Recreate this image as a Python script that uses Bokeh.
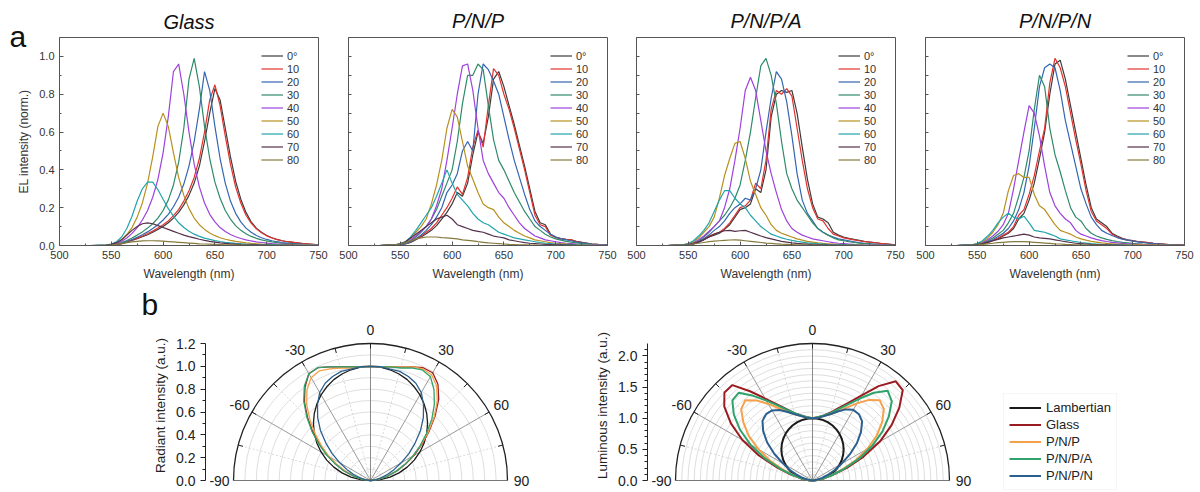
import math
from bokeh.plotting import figure
from bokeh.layouts import row, column
from bokeh.models import Legend, LegendItem, Title, FixedTicker, Range1d, PrintfTickFormatter
from bokeh.embed import file_html
from bokeh.resources import INLINE

FONT = "Liberation Sans"

# ---------------- spectra (panel a) ----------------
WL = [500, 530, 545, 550, 555, 560, 565, 570, 575, 580, 585, 590, 595, 600, 605, 610, 615, 620, 625, 630,
      635, 640, 645, 650, 655, 660, 665, 670, 675, 680, 685, 690, 695, 700, 705, 710, 715, 720, 735, 750]
ANGLE_LABELS = ["0°", "10", "20", "30", "40", "50", "60", "70", "80"]
ANGLE_COLORS = ["#3c3c3c", "#e0322e", "#3466b0", "#2f8a6a", "#9d42dc", "#b8901e", "#22a4ac", "#55304a", "#857a3c"]
PANEL_TITLES = ["Glass", "P/N/P", "P/N/P/A", "P/N/P/N"]

GLASS = [
    [0,0,0,.002,.005,.01,.018,.027,.036,.046, .057,.07,.085,.10,.12,.145,.175,.215,.265,.33, .42,.55,.70,.83,.77,.62,.47,.34,.245,.175, .125,.092,.07,.053,.041,.032,.025,.02,.01,.004],
    [0,0,0,.002,.005,.01,.019,.029,.039,.05, .062,.076,.092,.11,.13,.158,.19,.235,.29,.36, .46,.60,.77,.85,.74,.58,.43,.31,.225,.16, .118,.088,.067,.051,.04,.031,.025,.02,.01,.004],
    [0,0,0,.002,.006,.012,.021,.032,.044,.057, .072,.09,.11,.135,.165,.205,.255,.325,.42,.55, .72,.92,.82,.63,.46,.33,.235,.17,.125,.092, .07,.053,.041,.032,.025,.02,.016,.013,.006,.003],
    [0,0,0,.003,.008,.015,.026,.04,.055,.072, .092,.115,.145,.185,.24,.32,.44,.62,.88,.99, .84,.63,.46,.335,.25,.185,.14,.105,.08,.062, .048,.038,.03,.024,.019,.015,.012,.01,.005,.002],
    [0,0,.001,.004,.011,.022,.04,.064,.095,.135, .185,.255,.35,.49,.68,.92,.96,.80,.60,.43, .31,.225,.165,.125,.095,.074,.058,.046,.037,.03, .024,.019,.016,.013,.01,.008,.007,.006,.003,.001],
    [0,0,.002,.006,.015,.032,.058,.095,.15,.225, .33,.47,.63,.70,.63,.49,.36,.265,.195,.145, .11,.085,.066,.052,.041,.033,.027,.022,.018,.014, .011,.009,.007,.006,.005,.004,.003,.003,.002,.001],
    [0,0,.003,.008,.02,.045,.09,.155,.235,.30, .335,.335,.295,.245,.195,.155,.12,.095,.075,.06, .048,.039,.032,.026,.021,.017,.014,.011,.009,.007, .006,.005,.004,.003,.003,.002,.002,.001,.001,0],
    [0,0,.002,.006,.015,.03,.055,.08,.10,.115, .12,.115,.105,.095,.085,.075,.065,.055,.047,.04, .033,.027,.022,.018,.014,.011,.009,.007,.005,.004, .003,.003,.002,.002,.001,.001,.001,.001,0,0],
    [0,0,.001,.003,.006,.01,.015,.019,.022,.024, .025,.025,.024,.023,.021,.019,.017,.015,.013,.011, .009,.008,.007,.006,.005,.004,.003,.003,.002,.002, .001,.001,.001,.001,0,0,0,0,0,0],
]
PNP = [
    [0,0,.002,.004,.008,.016,.03,.045,.062,.08, .105,.14,.175,.22,.28,.26,.33,.48,.6,.54, .68,.88,.92,.84,.74,.64,.53,.42,.3,.18, .12,.11,.06,.045,.037,.033,.03,.022,.008,.002],
    [0,0,.002,.005,.01,.02,.035,.05,.07,.09, .12,.16,.2,.25,.31,.27,.36,.52,.61,.52, .74,.935,.9,.8,.72,.62,.51,.4,.28,.16, .11,.1,.055,.042,.035,.032,.03,.02,.008,.002],
    [0,0,.002,.005,.01,.02,.035,.055,.08,.11, .15,.2,.28,.32,.38,.5,.55,.5,.8,.96, .93,.87,.8,.68,.56,.45,.36,.27,.19,.13, .1,.08,.06,.045,.035,.03,.025,.018,.007,.002],
    [0,0,.003,.006,.012,.025,.045,.07,.1,.14, .19,.26,.33,.4,.55,.75,.9,.9,.96,.93, .74,.56,.45,.4,.34,.28,.23,.18,.14,.1, .08,.06,.045,.035,.028,.022,.018,.014,.005,.001],
    [0,0,.003,.007,.015,.03,.05,.075,.1,.14, .21,.3,.45,.62,.8,.95,.96,.82,.62,.45, .38,.33,.28,.25,.2,.16,.12,.09,.07,.05, .04,.03,.025,.02,.015,.012,.01,.008,.003,.001],
    [0,0,.004,.01,.02,.04,.07,.1,.14,.22, .32,.45,.62,.72,.68,.55,.42,.35,.28,.22, .2,.19,.15,.12,.1,.08,.065,.05,.04,.03, .025,.02,.015,.012,.01,.008,.006,.005,.002,0],
    [0,0,.004,.01,.02,.045,.08,.12,.16,.2, .26,.33,.4,.33,.27,.24,.21,.17,.14,.12, .11,.09,.07,.06,.05,.04,.035,.03,.025,.02, .015,.012,.01,.008,.006,.005,.004,.003,.001,0],
    [0,0,.003,.008,.02,.04,.06,.08,.1,.12, .14,.15,.16,.14,.11,.1,.09,.08,.075,.07, .06,.05,.045,.04,.03,.025,.02,.015,.012,.01, .008,.006,.005,.004,.003,.002,.002,.001,0,0],
    [0,0,.003,.008,.015,.025,.035,.04,.045,.045, .045,.042,.04,.038,.035,.03,.027,.024,.02,.017, .014,.012,.01,.008,.006,.005,.004,.003,.002,.002, .001,.001,0,0,0,0,0,0,0,0],
]
PNPA = [
    [0,0,.002,.004,.008,.016,.03,.045,.055,.065, .085,.11,.15,.19,.2,.22,.3,.28,.4,.68, .8,.82,.81,.82,.7,.52,.35,.22,.15,.14, .12,.07,.055,.045,.038,.032,.027,.022,.012,.003],
    [0,0,.002,.005,.01,.02,.035,.05,.06,.07, .09,.12,.16,.2,.21,.24,.33,.3,.45,.72, .82,.8,.83,.79,.62,.45,.3,.2,.14,.13, .09,.06,.05,.04,.035,.03,.025,.02,.012,.003],
    [0,0,.002,.005,.01,.02,.035,.055,.08,.1, .13,.17,.2,.22,.25,.24,.3,.4,.6,.78, .92,.88,.76,.58,.38,.24,.17,.13,.09,.07, .055,.045,.035,.03,.025,.02,.015,.012,.005,.001],
    [0,0,.003,.006,.012,.025,.045,.07,.1,.13, .16,.2,.25,.32,.45,.6,.78,.95,.99,.9, .75,.55,.38,.3,.24,.2,.16,.12,.09,.07, .055,.04,.03,.025,.02,.016,.012,.01,.004,.001],
    [0,0,.003,.007,.015,.03,.05,.075,.1,.13, .2,.3,.45,.62,.82,.89,.82,.66,.5,.38, .28,.19,.13,.09,.07,.055,.045,.035,.03,.025, .02,.015,.012,.01,.008,.006,.005,.004,.002,0],
    [0,0,.004,.01,.02,.04,.07,.1,.15,.25, .37,.46,.54,.55,.46,.34,.27,.2,.16,.11, .08,.065,.055,.045,.035,.028,.022,.018,.014,.011, .009,.007,.006,.005,.004,.003,.003,.002,.001,0],
    [0,0,.004,.01,.025,.05,.08,.12,.18,.24, .29,.29,.25,.22,.2,.16,.13,.1,.08,.06, .05,.04,.033,.027,.022,.018,.014,.011,.009,.007, .005,.004,.003,.003,.002,.002,.001,.001,0,0],
    [0,0,.002,.005,.01,.02,.03,.045,.06,.07, .078,.08,.075,.078,.08,.07,.06,.05,.042,.035, .028,.022,.018,.014,.011,.009,.007,.005,.004,.003, .002,.002,.001,.001,.001,.001,0,0,0,0],
    [0,0,.002,.004,.008,.012,.016,.02,.023,.025, .027,.029,.03,.028,.025,.022,.019,.016,.013,.011, .009,.007,.006,.005,.004,.003,.002,.002,.001,.001, 0,0,0,0,0,0,0,0,0,0],
]
PNPN = [
    [0,0,.002,.004,.008,.015,.025,.036,.05,.065, .09,.14,.17,.24,.33,.46,.6,.8,.96,.98, .88,.74,.6,.46,.32,.2,.14,.12,.1,.065, .05,.038,.03,.026,.021,.018,.015,.012,.005,.002],
    [0,0,.002,.005,.01,.018,.028,.04,.055,.07, .1,.16,.19,.27,.37,.5,.62,.86,.99,.94, .84,.7,.56,.43,.29,.18,.13,.11,.09,.06, .045,.035,.028,.025,.02,.018,.015,.012,.005,.002],
    [0,0,.003,.006,.012,.02,.032,.048,.065,.09, .13,.19,.28,.42,.62,.84,.94,.96,.94,.82, .66,.54,.42,.3,.22,.15,.11,.08,.065,.053, .042,.034,.028,.023,.019,.016,.013,.01,.004,.001],
    [0,0,.003,.007,.014,.025,.04,.06,.08,.12, .17,.26,.36,.5,.72,.9,.84,.62,.48,.39, .29,.2,.15,.13,.09,.065,.05,.04,.032,.026, .021,.017,.014,.011,.009,.007,.006,.005,.002,0],
    [0,0,.003,.008,.016,.03,.05,.075,.11,.17, .3,.45,.6,.74,.7,.58,.42,.28,.21,.17, .14,.12,.08,.06,.05,.04,.032,.026,.021,.017, .014,.011,.009,.007,.006,.005,.004,.003,.001,0],
    [0,0,.004,.01,.02,.04,.07,.11,.17,.29, .37,.38,.36,.36,.27,.21,.19,.15,.11,.08, .07,.06,.045,.035,.028,.022,.018,.014,.011,.009, .007,.006,.005,.004,.003,.003,.002,.002,.001,0],
    [0,0,.004,.01,.025,.05,.08,.12,.15,.17, .15,.14,.155,.12,.08,.075,.07,.06,.05,.035, .03,.025,.02,.016,.013,.01,.008,.006,.005,.004, .003,.002,.002,.001,0,0,0,0,0,0],
    [0,0,.002,.005,.01,.018,.025,.032,.04,.045, .05,.055,.06,.055,.045,.04,.038,.035,.03,.025, .02,.016,.012,.01,.008,.006,.005,.004,.003,.002, .002,.001,0,0,0,0,0,0,0,0],
    [0,0,.001,.003,.006,.009,.012,.015,.017,.019, .02,.02,.02,.019,.017,.015,.013,.011,.009,.008, .006,.005,.004,.003,.003,.002,.002,.001,.001,0, 0,0,0,0,0,0,0,0,0,0],
]

X_TICKS = [500, 550, 600, 650, 700, 750]
X_MINOR = [525, 575, 625, 675, 725]
Y_TICKS = [0.0, 0.2, 0.4, 0.6, 0.8, 1.0]
Y_MINOR = [0.1, 0.3, 0.5, 0.7, 0.9]

# ---------------- angular distributions (panel b) ----------------
POLAR_ANG = [-90, -85, -80, -75, -70, -65, -60, -55, -50, -45, -40, -35, -30, -25, -20, -15, -10, -5, 0,
             5, 10, 15, 20, 25, 30, 35, 40, 45, 50, 55, 60, 65, 70, 75, 80, 85, 90]
SAMPLES = ["Lambertian", "Glass", "P/N/P", "P/N/P/A", "P/N/P/N"]
SAMPLE_COLORS = ["#1a1a1a", "#9b1c20", "#f5a04a", "#2fa36b", "#2b5f8e"]

LAMBERT = [0, .087, .174, .259, .342, .423, .5, .574, .643, .707, .766, .819, .866, .906, .94, .966, .985, .996, 1.0,
           .996, .985, .966, .94, .906, .866, .819, .766, .707, .643, .574, .5, .423, .342, .259, .174, .087, 0]
RAD_GLASS = [0,.03,.08,.15,.24,.33,.43,.54,.66,.78,.90,1.0,1.08,1.09,1.06,1.03,1.01,1.0, 1.0,
             1.0,1.01,1.03,1.06,1.09,1.09,1.03,.93,.80,.67,.55,.44,.34,.25,.16,.09,.035,0]
RAD_PNP = [0,.03,.08,.15,.23,.32,.42,.52,.63,.75,.87,.97,1.04,1.06,1.04,1.02,1.0,1.0, 1.0,
           1.0,1.01,1.03,1.06,1.08,1.07,1.01,.91,.79,.66,.54,.43,.33,.24,.15,.08,.03,0]
RAD_PNPA = [0,.035,.09,.16,.25,.34,.44,.55,.67,.79,.91,1.01,1.08,1.09,1.06,1.03,1.01,1.0, 1.0,
            1.0,1.01,1.02,1.05,1.07,1.05,.97,.87,.76,.64,.53,.43,.33,.24,.16,.09,.035,0]
RAD_PNPN = [0,.02,.05,.10,.16,.23,.31,.41,.51,.62,.72,.81,.89,.94,.97,.99,.99,1.0, 1.0,
            1.0,.99,.99,.97,.94,.89,.81,.72,.62,.51,.41,.31,.23,.16,.10,.05,.02,0]

LUM_GLASS = [0,.06,.17,.35,.6,.95,1.3,1.6,1.85,2.0,2.0,1.75,1.52,1.35,1.22,1.12,1.06,1.02, 1.0,
             1.02,1.06,1.13,1.24,1.38,1.58,1.85,2.08,2.05,1.82,1.55,1.25,.9,.58,.33,.16,.05,0]
LUM_PNP = [0,.05,.14,.3,.5,.75,1.0,1.25,1.45,1.62,1.68,1.57,1.42,1.28,1.18,1.10,1.05,1.02, 1.0,
           1.02,1.05,1.10,1.18,1.29,1.43,1.58,1.68,1.62,1.46,1.26,1.02,.76,.5,.3,.14,.05,0]
LUM_PNPA = [0,.05,.15,.32,.55,.85,1.15,1.42,1.65,1.82,1.84,1.66,1.48,1.33,1.21,1.12,1.06,1.02, 1.0,
            1.02,1.06,1.12,1.22,1.35,1.52,1.72,1.88,1.80,1.60,1.37,1.10,.82,.53,.31,.15,.05,0]
LUM_PNPN = [0,.03,.08,.17,.27,.40,.55,.75,.95,1.12,1.25,1.30,1.30,1.25,1.17,1.10,1.05,1.01, 1.0,
            1.01,1.05,1.10,1.18,1.26,1.31,1.30,1.24,1.10,.93,.73,.54,.39,.26,.16,.08,.03,0]

RAD_TICKS = [0.0, 0.2, 0.4, 0.6, 0.8, 1.0, 1.2]
LUM_TICKS = [0.0, 0.5, 1.0, 1.5, 2.0]
ANGLE_TICK_LABELS = [-90, -60, -30, 0, 30, 60, 90]


def letter_title(letter, offset, standoff, valign="bottom"):
    return Title(text=letter, align="left", offset=offset, standoff=standoff, vertical_align=valign,
                 text_font=FONT, text_font_size="30px", text_font_style="normal", text_color="#111111")


def spectrum_panel(title, curves, left_b, right_b, first):
    p = figure(frame_width=259, frame_height=208, min_border_left=left_b, min_border_right=right_b,
               min_border_top=37, min_border_bottom=43, x_range=Range1d(500, 750), y_range=Range1d(0, 1.1),
               output_backend="svg", toolbar_location=None)
    if first:
        p.add_layout(letter_title("a", -50, -30), "above")
    p.add_layout(Title(text=title, align="center", standoff=0 if first else 12, text_font=FONT,
                       text_font_style="italic", text_font_size="20px", text_color="#111111"), "above")
    p.xgrid.visible = False
    p.ygrid.visible = False
    p.outline_line_color = "#555555"
    rends = []
    for vals, col in zip(curves, ANGLE_COLORS):
        rends.append(p.line(WL, vals, line_color=col, line_width=1.2))
    items = [LegendItem(label=lab, renderers=[r]) for lab, r in zip(ANGLE_LABELS, rends)]
    leg = Legend(items=items, location=(202, 79), padding=0, spacing=0, margin=0,
                 glyph_width=22, glyph_height=13, label_height=13, label_standoff=4,
                 label_text_font=FONT, label_text_font_size="11px", label_text_color="#333333",
                 border_line_color=None, background_fill_alpha=0)
    p.add_layout(leg)
    for ax in (p.xaxis[0], p.yaxis[0]):
        ax.axis_line_color = "#555555"
        ax.major_tick_line_color = "#555555"
        ax.minor_tick_line_color = "#555555"
        ax.major_tick_in = 4
        ax.major_tick_out = 0
        ax.minor_tick_in = 2
        ax.minor_tick_out = 0
        ax.major_label_text_font = FONT
        ax.major_label_text_font_size = "11px"
        ax.major_label_text_color = "#333333"
        ax.axis_label_text_font = FONT
        ax.axis_label_text_font_style = "normal"
        ax.axis_label_text_font_size = "12px"
        ax.axis_label_text_color = "#333333"
    p.xaxis[0].ticker = FixedTicker(ticks=X_TICKS, minor_ticks=X_MINOR)
    p.xaxis[0].axis_label = "Wavelength (nm)"
    if first:
        p.yaxis[0].ticker = FixedTicker(ticks=Y_TICKS, minor_ticks=Y_MINOR)
        p.yaxis[0].formatter = PrintfTickFormatter(format="%.1f")
        p.yaxis[0].axis_label = "EL intensity (norm.)"
    else:
        # unlabeled axis: tick marks only
        p.yaxis[0].ticker = FixedTicker(ticks=[], minor_ticks=Y_TICKS[1:] + Y_MINOR)
        p.yaxis[0].minor_tick_in = 3
        p.yaxis[0].major_label_standoff = 0
    return p


def polar_panel(R, frame_w, left_b, center_px, curves, lw, ylabel, yticks, minor_step):
    s = 137.0 / R
    frame_h = 174
    p = figure(frame_width=frame_w, frame_height=frame_h, min_border_left=left_b, min_border_right=0,
               min_border_top=30, min_border_bottom=0,
               x_range=Range1d(-center_px / s, (frame_w - center_px) / s),
               y_range=Range1d(-12.0 / s, (frame_h - 12.0) / s),
               x_axis_location=None, output_backend="svg", toolbar_location=None)
    p.xgrid.visible = False
    p.ygrid.visible = False
    p.outline_line_color = None
    n = int(round(R / 0.1))
    rings = [round(0.1 * k, 2) for k in range(1, n)]
    p.arc(x=0, y=0, radius=rings, start_angle=0, end_angle=math.pi, line_color="#d6d6d6", line_width=0.8)
    dotted = [-75, -45, -15, 15, 45, 75]
    p.segment(x0=0, y0=0, x1=[R * math.sin(math.radians(a)) for a in dotted],
              y1=[R * math.cos(math.radians(a)) for a in dotted],
              line_color="#cfcfcf", line_width=0.8, line_dash="2 2")
    spokes = [-60, -30, 30, 60]
    p.segment(x0=0, y0=0, x1=[R * math.sin(math.radians(a)) for a in spokes],
              y1=[R * math.cos(math.radians(a)) for a in spokes], line_color="#9a9a9a", line_width=1)
    p.segment(x0=0, y0=0, x1=0, y1=R, line_color="#8a8a8a", line_width=1)
    p.segment(x0=-R, y0=0, x1=R, y1=0, line_color="#777777", line_width=1)
    p.arc(x=0, y=0, radius=R, start_angle=0, end_angle=math.pi, line_color="#222222", line_width=1.3)
    tick_angles = list(range(-75, 90, 15))
    ri = R - 5.0 / s
    p.segment(x0=[ri * math.sin(math.radians(a)) for a in tick_angles],
              y0=[ri * math.cos(math.radians(a)) for a in tick_angles],
              x1=[R * math.sin(math.radians(a)) for a in tick_angles],
              y1=[R * math.cos(math.radians(a)) for a in tick_angles], line_color="#222222", line_width=1)
    rl = R + 14.0 / s
    p.text(x=[rl * math.sin(math.radians(a)) for a in ANGLE_TICK_LABELS],
           y=[rl * math.cos(math.radians(a)) for a in ANGLE_TICK_LABELS],
           text=[str(a) for a in ANGLE_TICK_LABELS], text_align="center", text_baseline="middle",
           text_font_size="14px", text_color="#222222", text_font={"value": FONT})
    rends = []
    for vals, col in zip(curves, SAMPLE_COLORS):
        xs = [r * math.sin(math.radians(a)) for r, a in zip(vals, POLAR_ANG)]
        ys = [r * math.cos(math.radians(a)) for r, a in zip(vals, POLAR_ANG)]
        rends.append(p.line(xs, ys, line_color=col, line_width=lw))
    ya = p.yaxis[0]
    ya.ticker = FixedTicker(ticks=yticks,
                            minor_ticks=[round(minor_step * k, 2) for k in range(1, n) if
                                         all(abs(minor_step * k - t) > 1e-6 for t in yticks)])
    ya.bounds = (0, R)
    ya.formatter = PrintfTickFormatter(format="%.1f")
    ya.axis_line_color = "#222222"
    ya.major_tick_line_color = "#222222"
    ya.minor_tick_line_color = "#222222"
    ya.major_tick_out = 5
    ya.major_tick_in = 0
    ya.minor_tick_out = 3
    ya.minor_tick_in = 0
    ya.major_label_text_font = FONT
    ya.major_label_text_font_size = "14px"
    ya.major_label_text_color = "#222222"
    ya.axis_label = ylabel
    ya.axis_label_text_font = FONT
    ya.axis_label_text_font_style = "normal"
    ya.axis_label_text_font_size = "13.5px"
    ya.axis_label_text_color = "#222222"
    return p, rends


# top row
panels = []
borders = [(59, 15), (15, 15), (14, 15), (15, 16)]
for i, (t, data) in enumerate(zip(PANEL_TITLES, [GLASS, PNP, PNPA, PNPN])):
    panels.append(spectrum_panel(t, data, borders[i][0], borders[i][1], i == 0))

# bottom row
rad_fig, _ = polar_panel(1.2, 335, 205, 165, [LAMBERT, RAD_GLASS, RAD_PNP, RAD_PNPA, RAD_PNPN], 1.3,
                         "Radiant intensity (a.u.)", RAD_TICKS, 0.1)
rad_fig.add_layout(letter_title("b", -64, -8, "top"), "above")
lum_fig, lum_rends = polar_panel(2.2, 553, 107, 165, [LAMBERT, LUM_GLASS, LUM_PNP, LUM_PNPA, LUM_PNPN], 2.0,
                                 "Luminous intensity (a.u.)", LUM_TICKS, 0.1)
leg = Legend(items=[LegendItem(label=lab, renderers=[r]) for lab, r in zip(SAMPLES, lum_rends)],
             location=(356, 2), padding=5, spacing=0, margin=0, glyph_width=32, glyph_height=17,
             label_height=17, label_standoff=5, label_text_font=FONT, label_text_font_size="13px",
             label_text_color="#222222", border_line_color="#eeeeee", background_fill_alpha=0)
lum_fig.add_layout(leg)

layout = column(row(*panels), row(rad_fig, lum_fig))
open("out.html", "w").write(file_html(layout, INLINE))
